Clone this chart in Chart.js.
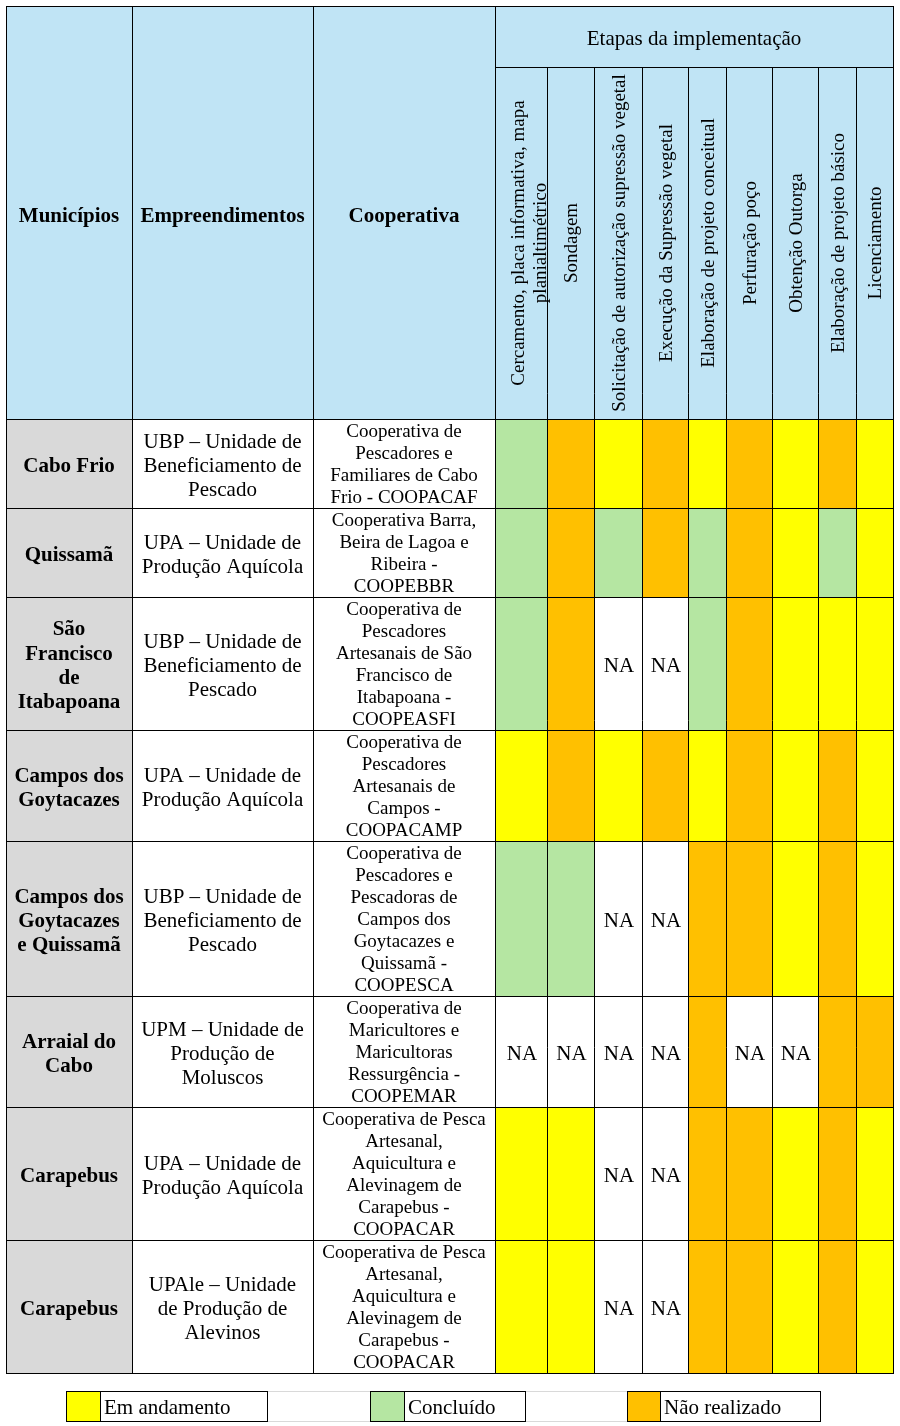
<!DOCTYPE html>
<html>
<head>
<meta charset="utf-8">
<script src="https://cdn.jsdelivr.net/npm/chart.js@4.4.1/dist/chart.umd.min.js"></script>
<style>
  html, body { margin: 0; padding: 0; background: #ffffff; }
  #wrap { width: 900px; height: 1426px; position: relative; }
  canvas { display: block; }
</style>
</head>
<body>
<div id="wrap"><canvas id="chart" width="900" height="1426"></canvas></div>
<script>
// ---------------- DATA ----------------
const headerLabels = ['Municípios', 'Empreendimentos', 'Cooperativa'];
const groupTitle = 'Etapas da implementação';
const etapas = [
  'Cercamento, placa informativa, mapa\nplanialtimétrico',
  'Sondagem',
  'Solicitação de autorização supressão vegetal',
  'Execução da Supressão vegetal',
  'Elaboração de projeto conceitual',
  'Perfuração poço',
  'Obtenção Outorga',
  'Elaboração de projeto básico',
  'Licenciamento'
];
const municipios = [
  'Cabo Frio',
  'Quissamã',
  'São\nFrancisco\nde\nItabapoana',
  'Campos dos\nGoytacazes',
  'Campos dos\nGoytacazes\ne Quissamã',
  'Arraial do\nCabo',
  'Carapebus',
  'Carapebus'
];
const empreendimentos = [
  'UBP – Unidade de\nBeneficiamento de\nPescado',
  'UPA – Unidade de\nProdução Aquícola',
  'UBP – Unidade de\nBeneficiamento de\nPescado',
  'UPA – Unidade de\nProdução Aquícola',
  'UBP – Unidade de\nBeneficiamento de\nPescado',
  'UPM – Unidade de\nProdução de\nMoluscos',
  'UPA – Unidade de\nProdução Aquícola',
  'UPAle – Unidade\nde Produção de\nAlevinos'
];
const cooperativas = [
  'Cooperativa de\nPescadores e\nFamiliares de Cabo\nFrio - COOPACAF',
  'Cooperativa Barra,\nBeira de Lagoa e\nRibeira -\nCOOPEBBR',
  'Cooperativa de\nPescadores\nArtesanais de São\nFrancisco de\nItabapoana -\nCOOPEASFI',
  'Cooperativa de\nPescadores\nArtesanais de\nCampos -\nCOOPACAMP',
  'Cooperativa de\nPescadores e\nPescadoras de\nCampos dos\nGoytacazes e\nQuissamã -\nCOOPESCA',
  'Cooperativa de\nMaricultores e\nMaricultoras\nRessurgência -\nCOOPEMAR',
  'Cooperativa de Pesca\nArtesanal,\nAquicultura e\nAlevinagem de\nCarapebus -\nCOOPACAR',
  'Cooperativa de Pesca\nArtesanal,\nAquicultura e\nAlevinagem de\nCarapebus -\nCOOPACAR'
];
// A = Em andamento, C = Concluído, N = Não realizado, NA = não se aplica
const status = [
  ['C', 'N', 'A', 'N', 'A', 'N', 'A', 'N', 'A'],
  ['C', 'N', 'C', 'N', 'C', 'N', 'A', 'C', 'A'],
  ['C', 'N', 'NA', 'NA', 'C', 'N', 'A', 'A', 'A'],
  ['A', 'N', 'A', 'N', 'A', 'N', 'A', 'N', 'A'],
  ['C', 'C', 'NA', 'NA', 'N', 'N', 'A', 'N', 'A'],
  ['NA', 'NA', 'NA', 'NA', 'N', 'NA', 'NA', 'N', 'N'],
  ['A', 'A', 'NA', 'NA', 'N', 'N', 'A', 'N', 'A'],
  ['A', 'A', 'NA', 'NA', 'N', 'N', 'A', 'N', 'A']
];
const legendCodes = ['A', 'C', 'N'];
const legendLabels = ['Em andamento', 'Concluído', 'Não realizado'];

// ---------------- LAYOUT / STYLE ----------------
const colWidths = [126, 181, 182, 52, 47, 48, 46, 38, 46, 46, 38, 37];
const headerHeights = [61, 352];
const rowHeights = [89, 89, 133, 111, 155, 111, 133, 133];
const statusColors = { A: '#FFFF00', C: '#B5E6A2', N: '#FFC000', NA: '#FFFFFF' };
const headerFill = '#C0E4F5';
const muniFill = '#D9D9D9';
const serif = '"Liberation Serif", "Times New Roman", serif';
const legendLayout = { top: 1391, bottom: 1421, items: [[66, 100, 267], [370, 404, 525], [627, 660, 820]] };

const totalW = colWidths.reduce((a, b) => a + b, 0);
const totalH = headerHeights.concat(rowHeights).reduce((a, b) => a + b, 0);

function drawLines(ctx, text, cx, cy, lh) {
  const lines = text.split('\n');
  const n = lines.length;
  lines.forEach((t, i) => ctx.fillText(t, cx, cy + (i - (n - 1) / 2) * lh));
}

const tablePlugin = {
  id: 'tablePlugin',
  afterDraw(chart) {
    const ctx = chart.ctx;
    const xs = chart.scales.x, ys = chart.scales.y;
    const X = v => Math.round(xs.getPixelForValue(v));
    const Y = v => Math.round(ys.getPixelForValue(v));
    const cxE = [0]; colWidths.forEach(w => cxE.push(cxE[cxE.length - 1] + w));
    const ryE = [0]; headerHeights.concat(rowHeights).forEach(h => ryE.push(ryE[ryE.length - 1] + h));
    const nC = colWidths.length, nR = ryE.length - 1;

    ctx.save();
    // header background
    ctx.fillStyle = headerFill;
    ctx.fillRect(X(0), Y(0), X(totalW) - X(0), Y(ryE[2]) - Y(0));
    // body cells
    for (let r = 0; r < rowHeights.length; r++) {
      const y0 = Y(ryE[r + 2]), y1 = Y(ryE[r + 3]);
      for (let c = 0; c < nC; c++) {
        let fill;
        if (c === 0) fill = muniFill;
        else if (c < 3) fill = '#FFFFFF';
        else fill = statusColors[status[r][c - 3]];
        ctx.fillStyle = fill;
        ctx.fillRect(X(cxE[c]), y0, X(cxE[c + 1]) - X(cxE[c]), y1 - y0);
      }
    }
    // grid lines
    ctx.strokeStyle = '#000000';
    ctx.lineWidth = 1;
    ctx.beginPath();
    const hLine = (yv, xa, xb) => { const y = Y(yv) + 0.5; ctx.moveTo(X(xa), y); ctx.lineTo(X(xb) + 1, y); };
    const vLine = (xv, ya, yb) => { const x = X(xv) + 0.5; ctx.moveTo(x, Y(ya)); ctx.lineTo(x, Y(yb) + 1); };
    hLine(ryE[0], 0, totalW);
    hLine(ryE[1], cxE[3], totalW);
    for (let i = 2; i <= nR; i++) hLine(ryE[i], 0, totalW);
    for (let c = 0; c <= nC; c++) {
      if (c <= 3 || c === nC) vLine(cxE[c], 0, totalH);
      else vLine(cxE[c], ryE[1], totalH);
    }
    ctx.stroke();

    // texts
    ctx.fillStyle = '#000000';
    ctx.textAlign = 'center';
    ctx.textBaseline = 'middle';
    // header labels
    ctx.font = 'bold 21px ' + serif;
    headerLabels.forEach((t, c) => {
      ctx.fillText(t, (X(cxE[c]) + X(cxE[c + 1])) / 2, (Y(ryE[0]) + Y(ryE[2])) / 2 + 4);
    });
    ctx.font = '21px ' + serif;
    ctx.fillText(groupTitle, (X(cxE[3]) + X(totalW)) / 2, (Y(ryE[0]) + Y(ryE[1])) / 2 + 3);
    // rotated stage headers
    ctx.font = '19px ' + serif;
    etapas.forEach((t, i) => {
      const c = i + 3;
      const multi = t.indexOf('\n') >= 0;
      const cx = (X(cxE[c]) + X(cxE[c + 1])) / 2 + (multi ? 9 : 2);
      const cy = (Y(ryE[1]) + Y(ryE[2])) / 2;
      ctx.save();
      ctx.translate(cx, cy);
      ctx.rotate(-Math.PI / 2);
      drawLines(ctx, t, 0, 0, 22);
      ctx.restore();
    });
    // body texts
    for (let r = 0; r < rowHeights.length; r++) {
      const cy = (Y(ryE[r + 2]) + Y(ryE[r + 3])) / 2 + 3;
      const mid = c => (X(cxE[c]) + X(cxE[c + 1])) / 2;
      ctx.font = 'bold 21px ' + serif;
      drawLines(ctx, municipios[r], mid(0), cy, 24.3);
      ctx.font = '21px ' + serif;
      drawLines(ctx, empreendimentos[r], mid(1), cy, 24);
      ctx.font = '19px ' + serif;
      drawLines(ctx, cooperativas[r], mid(2), cy - 1, 22);
      ctx.font = '21px ' + serif;
      status[r].forEach((s, k) => {
        if (s === 'NA') ctx.fillText('NA', mid(k + 3) + 1, cy);
      });
    }

    // legend (table-like)
    const L = legendLayout;
    ctx.strokeStyle = '#D9D9D9';
    ctx.beginPath();
    for (let i = 0; i < L.items.length - 1; i++) {
      const a = L.items[i][2], b = L.items[i + 1][0];
      ctx.moveTo(a, L.top + 0.5); ctx.lineTo(b, L.top + 0.5);
      ctx.moveTo(a, L.bottom + 0.5); ctx.lineTo(b, L.bottom + 0.5);
    }
    ctx.stroke();
    L.items.forEach((it, i) => {
      ctx.fillStyle = statusColors[legendCodes[i]];
      ctx.fillRect(it[0], L.top, it[1] - it[0], L.bottom - L.top);
      ctx.strokeStyle = '#000000';
      ctx.strokeRect(it[0] + 0.5, L.top + 0.5, it[1] - it[0], L.bottom - L.top);
      ctx.strokeRect(it[1] + 0.5, L.top + 0.5, it[2] - it[1], L.bottom - L.top);
      ctx.fillStyle = '#000000';
      ctx.textAlign = 'left';
      ctx.font = '21px ' + serif;
      ctx.fillText(legendLabels[i], it[1] + 4, (L.top + L.bottom) / 2 + 2);
    });
    ctx.restore();
  }
};

new Chart(document.getElementById('chart'), {
  type: 'scatter',
  data: { datasets: [{ data: [], pointRadius: 0 }] },
  options: {
    responsive: false,
    animation: false,
    devicePixelRatio: 1,
    layout: { padding: { left: 6, top: 6, right: 7, bottom: 53 } },
    plugins: { legend: { display: false }, tooltip: { enabled: false } },
    scales: {
      x: { type: 'linear', min: 0, max: totalW, display: false },
      y: { type: 'linear', min: 0, max: totalH, reverse: true, display: false }
    }
  },
  plugins: [tablePlugin]
});
</script>
</body>
</html>
